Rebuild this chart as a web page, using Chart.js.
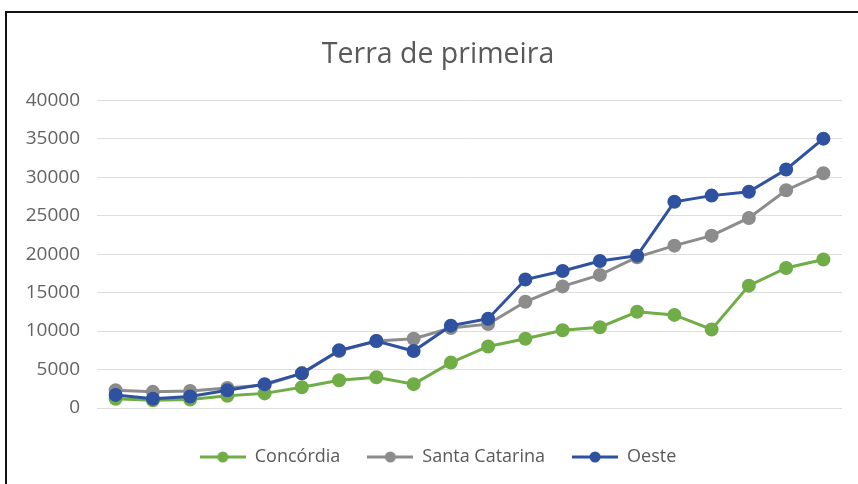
<!DOCTYPE html>
<html>
<head>
<meta charset="utf-8">
<script src="https://cdn.jsdelivr.net/npm/chart.js@4.4.1/dist/chart.umd.min.js"></script>
<style>
  html, body { margin:0; padding:0; background:#fff; overflow:hidden; }
  #frame { position:absolute; left:5px; top:11px; width:900px; height:500px; border-top:2px solid #111; border-left:2px solid #111; }
  #wrap { position:absolute; left:0; top:0; width:858px; height:484px; }
</style>
</head>
<body>
<div id="frame"></div>
<div id="wrap"><canvas id="terra_chart"></canvas></div>
<script>
var categories = ['1','2','3','4','5','6','7','8','9','10','11','12','13','14','15','16','17','18','19','20'];
var concordia = [1200, 1000, 1100, 1600, 1900, 2700, 3600, 4000, 3100, 5900, 8000, 9000, 10100, 10500, 12500, 12100, 10200, 15900, 18200, 19300];
var santaCatarina = [2300, 2100, 2200, 2600, 3000, 4500, 7400, 8700, 9000, 10400, 10900, 13800, 15800, 17300, 19600, 21100, 22400, 24700, 28300, 30500];
var oeste = [1700, 1200, 1500, 2300, 3100, 4500, 7500, 8700, 7400, 10700, 11600, 16700, 17800, 19100, 19800, 26800, 27600, 28100, 31000, 35000];
var yTicks = [0, 5000, 10000, 15000, 20000, 25000, 30000, 35000, 40000];

var seriesNames = ['Concórdia', 'Santa Catarina', 'Oeste'];
var seriesColors = ['#70ad47', '#8c8c8c', '#2f52a0'];
var textColor = '#595959';
var fontFamily = "'Open Sans', 'Noto Sans', sans-serif";

// small line+dot picture for the legend, like excel
function legendIcon(color){
    var c = document.createElement('canvas');
    c.width = 46; c.height = 12;
    var g = c.getContext('2d');
    g.strokeStyle = color;
    g.lineWidth = 3;
    g.beginPath(); g.moveTo(0, 6); g.lineTo(46, 6); g.stroke();
    g.fillStyle = color;
    g.beginPath(); g.arc(23, 6, 5.5, 0, Math.PI * 2); g.fill();
    return c;
}
var icons = seriesColors.map(legendIcon);

function makeDataset(i, values, order){
    return {
        label: seriesNames[i],
        data: values,
        borderColor: seriesColors[i],
        backgroundColor: seriesColors[i],
        pointBackgroundColor: seriesColors[i],
        pointBorderColor: seriesColors[i],
        borderWidth: 3,
        pointRadius: 5.5,
        pointHoverRadius: 6,
        tension: 0,
        fill: false,
        order: order
    };
}

var ctx = document.getElementById('terra_chart').getContext('2d');
var chartObj = new Chart(ctx, {
    type: 'line',
    data: {
        labels: categories,
        datasets: [
            makeDataset(0, concordia, 2),
            makeDataset(1, santaCatarina, 1),
            makeDataset(2, oeste, 0)
        ]
    },
    options: {
        responsive: true,
        maintainAspectRatio: false,
        animation: false,
        // left padding is large so title/legend centre sits over the plot like excel
        layout: { padding: { left: 34, right: 16, top: 0, bottom: 8 } },
        plugins: {
            title: {
                display: true,
                text: 'Terra de primeira',
                color: textColor,
                font: { family: fontFamily, size: 28.5, weight: 'normal' },
                padding: { top: 38, bottom: 28 }
            },
            legend: {
                position: 'bottom',
                labels: {
                    color: textColor,
                    font: { family: fontFamily, size: 18 },
                    usePointStyle: true,
                    pointStyleWidth: 46,
                    boxHeight: 12,
                    padding: 27,
                    sort: function(a, b){ return a.datasetIndex - b.datasetIndex; },
                    generateLabels: function(chart){
                        var items = Chart.defaults.plugins.legend.labels.generateLabels(chart);
                        items.forEach(function(item){ item.pointStyle = icons[item.datasetIndex]; });
                        return items;
                    }
                }
            },
            tooltip: { enabled: false }
        },
        scales: {
            x: {
                offset: true,
                grid: { display: false },
                border: { display: false },
                ticks: { display: false },
                afterFit: function(scale){ scale.height = 13; }
            },
            y: {
                min: 0,
                max: 40000,
                afterBuildTicks: function(scale){
                    scale.ticks = yTicks.map(function(v){ return { value: v }; });
                },
                grid: { color: '#dedede', lineWidth: 1, drawTicks: false },
                border: { display: false },
                ticks: {
                    color: '#636363',
                    padding: 17,
                    font: { family: fontFamily, size: 19 },
                    callback: function(v){ return String(v); }
                },
                afterFit: function(scale){
                    scale.width = 63;
                    // labels stick out past the narrow axis box, so don't clip them
                    scale._computeLabelArea = function(){ return undefined; };
                }
            }
        }
    }
});
</script>
</body>
</html>
